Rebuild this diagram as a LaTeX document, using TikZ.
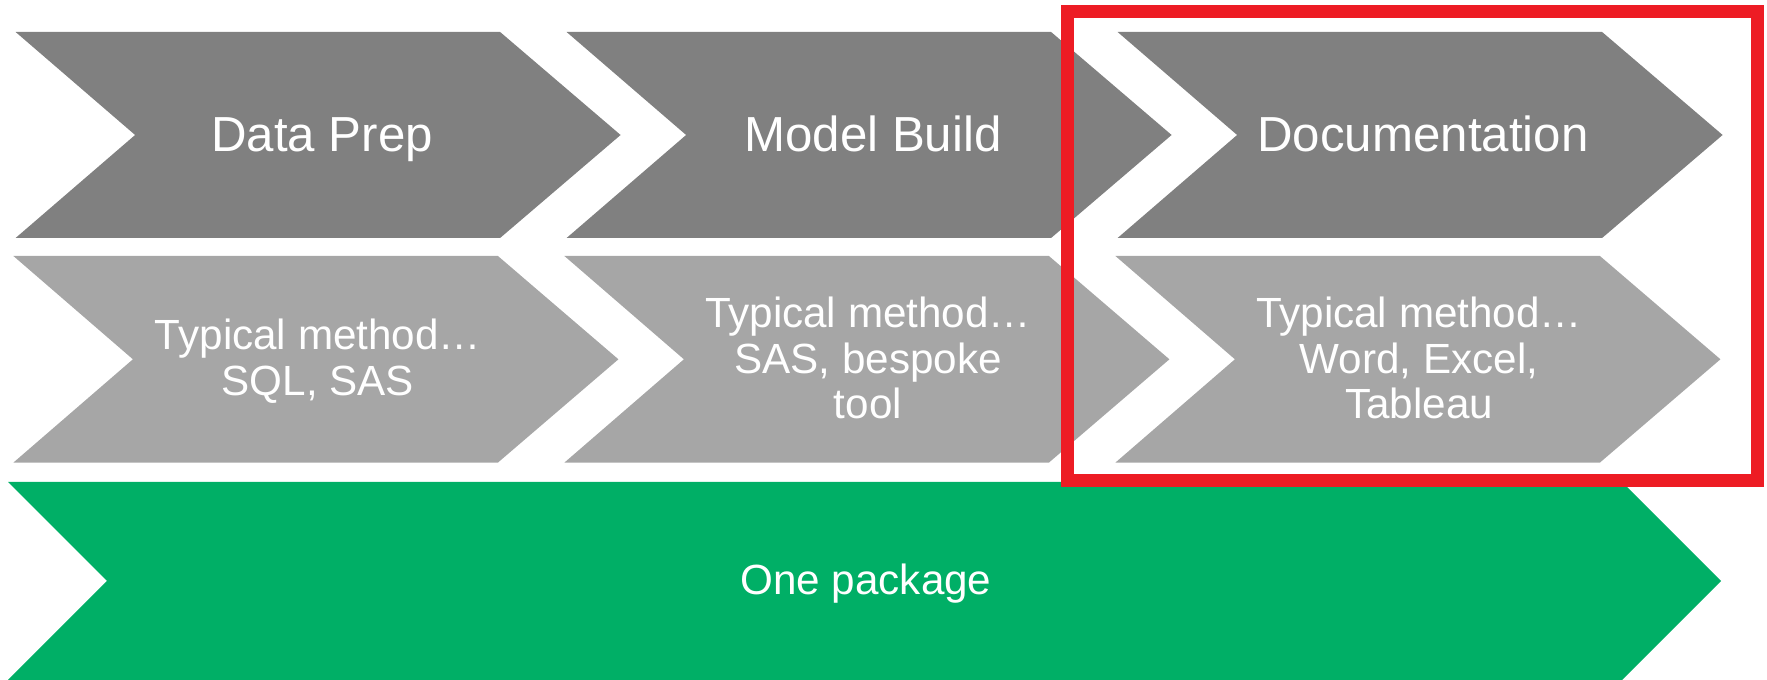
\documentclass[tikz,border=0pt]{standalone}
\usepackage{fontspec}
\setmainfont{Liberation Sans}
\usepackage{xcolor}
\definecolor{stagegray}{HTML}{808080}
\definecolor{methodgray}{HTML}{A6A6A6}
\definecolor{pkggreen}{HTML}{00AF66}
\definecolor{focusred}{HTML}{ED1C24}

\begin{document}
\begin{tikzpicture}[
    x=0.01cm, y=-0.01cm,
    stagechev/.style={fill=stagegray},
    methodchev/.style={fill=methodgray},
    pkgchev/.style={fill=pkggreen},
    stagetext/.style={text=white, inner sep=0pt, anchor=base, font=\fontsize{14}{16}\selectfont},
    methodtext/.style={text=white, inner sep=0pt, align=center, font=\fontsize{12}{13}\selectfont},
    focusbox/.style={draw=focusred, line width=0.13cm}
]
  \useasboundingbox (0,0) rectangle (1767,680);

  % Chevrons
  \foreach \i in {0,1,2} {
    \fill[stagechev] ({15.6+551*\i},32) -- ++(484.5,0) -- ++(120.5,103) -- ++(-120.5,103)
      -- ++(-484.5,0) -- ++(119.5,-103) -- cycle;
    \fill[methodchev] ({13.4+551*\i},256) -- ++(484.5,0) -- ++(120.5,103.3) -- ++(-120.5,103.3)
      -- ++(-484.5,0) -- ++(119.5,-103.3) -- cycle;
  }
  \fill[pkgchev] (8,482) -- (1622,482) -- (1721,581) -- (1622,680) -- (8,680) -- (107,581) -- cycle;

  % Labels
  \node (prep)  [stagetext] at (322,151.7) {Data Prep};
  \node (build) [stagetext] at (873,151.7) {Model Build};
  \node (docs)  [stagetext] at (1423,151.7) {Documentation};

  \node (prepm)  [methodtext] at (318,361) {Typical method…\\SQL, SAS};
  \node (buildm) [methodtext] at (868,358) {Typical method…\\SAS, bespoke\\tool};
  \node (docsm)  [methodtext] at (1419,358) {Typical method…\\Word, Excel,\\Tableau};

  \node (pkg) [stagetext, font=\fontsize{12}{14}\selectfont] at (866,595) {One package};

  % Highlight
  \draw[focusbox] (1067.6,11.7) rectangle (1757.9,480.4);
\end{tikzpicture}
\end{document}
